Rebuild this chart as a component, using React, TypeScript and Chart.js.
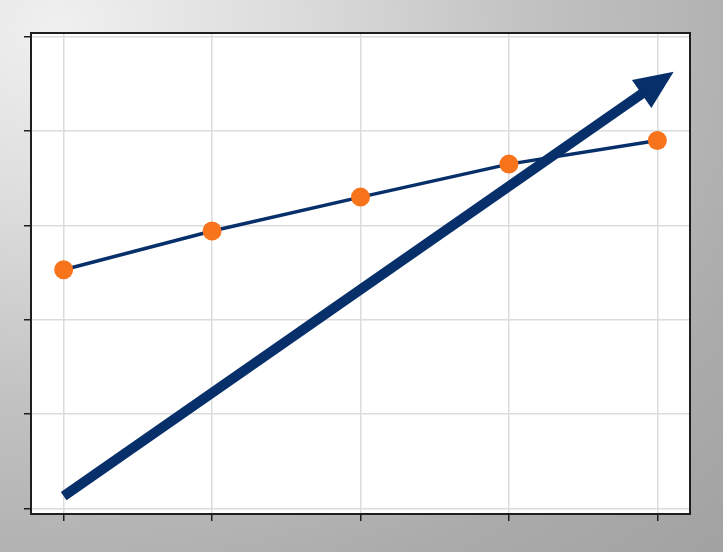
import React, { useEffect, useRef } from "react";
import Chart from "chart.js/auto";

// valores
const xValues = [0, 1, 2, 3, 4];
const lineValues = [2.53, 2.94, 3.3, 3.65, 3.9];
const yTicks = [0, 1, 2, 3, 4, 5];
const arrowX = [0, 4.11];
const arrowY = [0.13, 4.63];

const NAVY = "#07306b";
const ORANGE = "#f7731c";

// fondo blanco del área y marco completo
const framePlugin = {
  id: "frame",
  beforeDraw: (chart: any) => {
    const { ctx, chartArea } = chart;
    ctx.save();
    ctx.fillStyle = "#ffffff";
    ctx.fillRect(chartArea.left, chartArea.top, chartArea.width, chartArea.height);
    ctx.restore();
  },
  afterDraw: (chart: any) => {
    const { ctx, chartArea } = chart;
    ctx.save();
    ctx.strokeStyle = "#1e1e1e";
    ctx.lineWidth = 2;
    ctx.strokeRect(chartArea.left, chartArea.top, chartArea.width, chartArea.height);
    ctx.restore();
  },
};

// flecha gruesa de tendencia
const arrowPlugin = {
  id: "arrow",
  afterDatasetsDraw: (chart: any) => {
    const { ctx, scales } = chart;
    const x0 = scales.x.getPixelForValue(arrowX[0]);
    const y0 = scales.y.getPixelForValue(arrowY[0]);
    const x1 = scales.x.getPixelForValue(arrowX[1]);
    const y1 = scales.y.getPixelForValue(arrowY[1]);
    const len = Math.hypot(x1 - x0, y1 - y0);
    const ux = (x1 - x0) / len;
    const uy = (y1 - y0) / len;
    const headLen = 39;
    const halfW = 17;
    const bx = x1 - ux * headLen;
    const by = y1 - uy * headLen;

    ctx.save();
    ctx.strokeStyle = NAVY;
    ctx.fillStyle = NAVY;
    ctx.lineWidth = 10;
    ctx.lineCap = "butt";
    ctx.beginPath();
    ctx.moveTo(x0, y0);
    ctx.lineTo(bx + ux * 4, by + uy * 4);
    ctx.stroke();

    ctx.beginPath();
    ctx.moveTo(x1, y1);
    ctx.lineTo(bx - uy * halfW, by + ux * halfW);
    ctx.lineTo(bx + uy * halfW, by - ux * halfW);
    ctx.closePath();
    ctx.fill();
    ctx.restore();
  },
};

const App: React.FC = () => {
  const chartRef = useRef<HTMLCanvasElement>(null);
  const chartInstanceRef = useRef<Chart | null>(null);

  useEffect(() => {
    document.body.style.margin = "0";
    if (!chartRef.current) return;
    if (chartInstanceRef.current) {
      chartInstanceRef.current.destroy();
    }
    const ctx = chartRef.current.getContext("2d");
    if (!ctx) return;

    chartInstanceRef.current = new Chart(ctx, {
      type: "line",
      data: {
        datasets: [
          {
            data: xValues.map((x, i) => ({ x, y: lineValues[i] })),
            borderColor: NAVY,
            borderWidth: 3.5,
            pointRadius: 9.5,
            pointBackgroundColor: ORANGE,
            pointBorderColor: ORANGE,
            pointBorderWidth: 0,
            tension: 0,
          },
        ],
      },
      options: {
        animation: false,
        responsive: true,
        maintainAspectRatio: false,
        layout: {
          padding: { left: 24, top: 33, right: 33, bottom: 31 },
        },
        plugins: {
          legend: { display: false },
          tooltip: { enabled: false },
        },
        scales: {
          x: {
            type: "linear",
            min: -0.22,
            max: 4.22,
            afterBuildTicks: (axis: any) => {
              axis.ticks = xValues.map((v) => ({ value: v }));
            },
            ticks: { display: false },
            grid: {
              color: "#dcdcdc",
              lineWidth: 1.5,
              tickColor: "#1e1e1e",
              tickLength: 7,
            },
            border: { color: "#1e1e1e", width: 2 },
          },
          y: {
            type: "linear",
            min: -0.06,
            max: 5.04,
            afterBuildTicks: (axis: any) => {
              axis.ticks = yTicks.map((v) => ({ value: v }));
            },
            ticks: { display: false },
            grid: {
              color: "#dcdcdc",
              lineWidth: 1.5,
              tickColor: "#1e1e1e",
              tickLength: 7,
            },
            border: { color: "#1e1e1e", width: 2 },
          },
        },
      },
      plugins: [framePlugin, arrowPlugin],
    });

    return () => {
      if (chartInstanceRef.current) {
        chartInstanceRef.current.destroy();
        chartInstanceRef.current = null;
      }
    };
  }, []);

  return (
    <div
      style={{
        position: "fixed",
        left: 0,
        top: 0,
        width: 723,
        height: 552,
        background:
          "radial-gradient(ellipse at 8% 5%, #f0f0f0 0%, #dcdcdc 25%, #c2c2c2 50%, #ababab 80%, #a2a2a2 100%)",
      }}
    >
      <canvas ref={chartRef} />
    </div>
  );
};

export default App;
